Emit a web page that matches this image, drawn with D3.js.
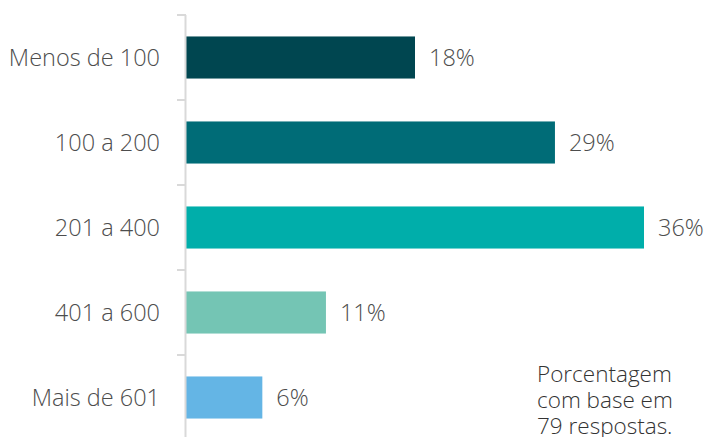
<!DOCTYPE html>
<html>
<head>
<meta charset="utf-8">
<script src="https://cdn.jsdelivr.net/npm/d3@7"></script>
<style>
  html, body { margin: 0; padding: 0; background: #fff; }
  svg { display: block; font-family: "Open Sans", sans-serif; }
</style>
</head>
<body>
<svg id="chart" width="707" height="437"></svg>
<script>
// Number of employees / company size distribution
const categories = ["Menos de 100", "100 a 200", "201 a 400", "401 a 600", "Mais de 601"];
const values = [18, 29, 36, 11, 6];
const colors = ["#004650", "#006c77", "#00aeaa", "#74c5b4", "#64b5e5"];
const noteLines = ["Porcentagem", "com base em", "79 respostas."];

const svg = d3.select("#chart");
const axisX = 186;

const y = d3.scaleBand()
  .domain(categories)
  .range([15, 440])
  .paddingInner(0.505)
  .paddingOuter(0.2525);

const x = d3.scaleLinear()
  .domain([0, 36])
  .range([axisX, 644]);

// bars
svg.selectAll("rect.bar")
  .data(categories)
  .join("rect")
  .attr("class", "bar")
  .attr("x", x(0))
  .attr("y", d => y(d))
  .attr("width", (d, i) => x(values[i]) - x(0))
  .attr("height", y.bandwidth())
  .attr("fill", (d, i) => colors[i]);

// vertical axis line with tick marks between categories
const axisG = svg.append("g");
const step = y.step();
const tickYs = d3.range(categories.length + 1).map(i => 15 + i * step);
axisG.append("line")
  .attr("x1", axisX - 0.5).attr("x2", axisX - 0.5)
  .attr("y1", 15).attr("y2", 440)
  .attr("stroke", "#d9d9d9").attr("stroke-width", 2);
axisG.selectAll("line.tick")
  .data(tickYs)
  .join("line")
  .attr("class", "tick")
  .attr("x1", axisX - 9).attr("x2", axisX)
  .attr("y1", d => d).attr("y2", d => d)
  .attr("stroke", "#d9d9d9").attr("stroke-width", 2);

// category labels
svg.selectAll("text.cat")
  .data(categories)
  .join("text")
  .attr("class", "cat")
  .attr("x", 160)
  .attr("y", d => y(d) + y.bandwidth() / 2)
  .attr("dy", "0.35em")
  .attr("text-anchor", "end")
  .attr("font-size", 23.5)
  .attr("font-weight", 300)
  .attr("fill", "#4d4d4d")
  .text(d => d);

// value labels
svg.selectAll("text.val")
  .data(categories)
  .join("text")
  .attr("class", "val")
  .attr("x", (d, i) => x(values[i]) + 14)
  .attr("y", d => y(d) + y.bandwidth() / 2)
  .attr("dy", "0.35em")
  .attr("font-size", 23.5)
  .attr("font-weight", 300)
  .attr("fill", "#4d4d4d")
  .text((d, i) => values[i] + "%");

// footnote
svg.append("text")
  .attr("x", 537)
  .attr("y", 381.5)
  .attr("font-size", 22.5)
  .attr("font-weight", 300)
  .attr("fill", "#333")
  .selectAll("tspan")
  .data(noteLines)
  .join("tspan")
  .attr("x", 537)
  .attr("dy", (d, i) => i === 0 ? 0 : 26)
  .text(d => d);
</script>
</body>
</html>
